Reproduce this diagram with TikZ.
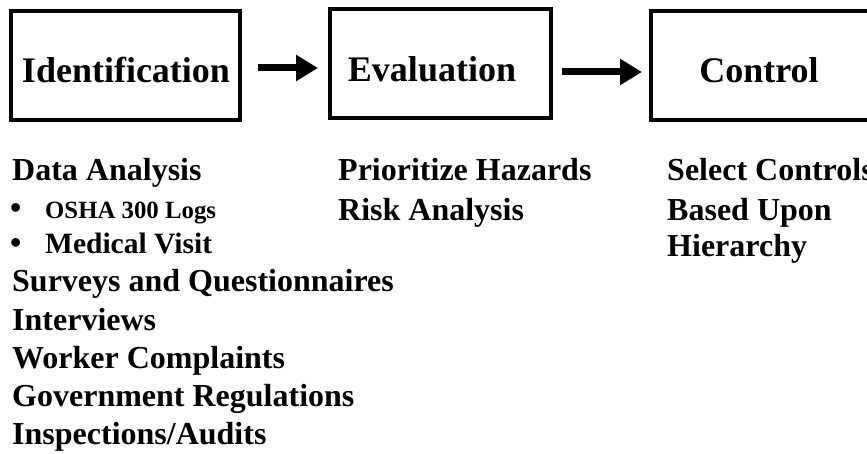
\documentclass[tikz,border=0pt]{standalone}
\usepackage{fontspec}
\setmainfont{Liberation Serif}
\usetikzlibrary{arrows.meta}
\tikzset{
  stage/.style={draw, line width=4pt, inner sep=0pt, minimum height=109pt},
  title/.style={anchor=base, inner sep=0pt, font=\fontsize{36}{40}\selectfont\bfseries},
  item/.style={anchor=base west, inner sep=0pt, font=\fontsize{32}{38}\selectfont\bfseries},
  flow/.style={line width=7pt, -{Triangle[length=22pt,width=25pt]}}
}
\newcommand{\dotmark}{\makebox[35pt][l]{\fontsize{32}{38}\selectfont\textbullet}}
\begin{document}
\begin{tikzpicture}[x=1pt, y=-1pt]
  \useasboundingbox (0,0) rectangle (867,454);
  % the three stages
  \node[stage, minimum width=229pt] (idbox) at (125.5,65.5) {};
  \node[stage, minimum width=221pt] (evalbox) at (440.5,63.5) {};
  \node[stage, minimum width=227pt] (ctrlbox) at (764.5,65.5) {};
  \node[title] (idtext) at (126,83) {Identification};
  \node[title] (evaltext) at (432,82) {Evaluation};
  \node[title] (ctrltext) at (759,83) {Control};
  \draw[flow, shorten <=16pt, shorten >=10pt] ([yshift=-2.5pt]idbox.east) -- ([yshift=-2.5pt]idbox.east -| evalbox.west);
  \draw[flow, shorten <=9pt, shorten >=7pt] ([yshift=-8.5pt]evalbox.east) -- ([yshift=-8.5pt]evalbox.east -| ctrlbox.west);
  % identification methods
  \node[item] (data) at (12,181) {Data Analysis};
  \node[item, font=\fontsize{24.8}{28}\selectfont\bfseries] (osha) at (10,219) {\dotmark OSHA 300 Logs};
  \node[item, font=\fontsize{29.5}{34}\selectfont\bfseries] (visit) at (10,254) {\dotmark Medical Visit};
  \node[item] (survey) at (12,291) {Surveys and Questionnaires};
  \node[item] (interv) at (12,330) {Interviews};
  \node[item] (compl) at (12,368) {Worker Complaints};
  \node[item] (regul) at (12,406) {Government Regulations};
  \node[item] (audit) at (12,444) {Inspections/Audits};
  % evaluation
  \node[item] (prio) at (338,181) {Prioritize Hazards};
  \node[item] (risk) at (338,221) {Risk Analysis};
  % control
  \node[item] (select) at (667,181) {Select Controls};
  \node[item] (based) at (667,221) {Based Upon};
  \node[item] (hier) at (667,257) {Hierarchy};
\end{tikzpicture}
\end{document}
